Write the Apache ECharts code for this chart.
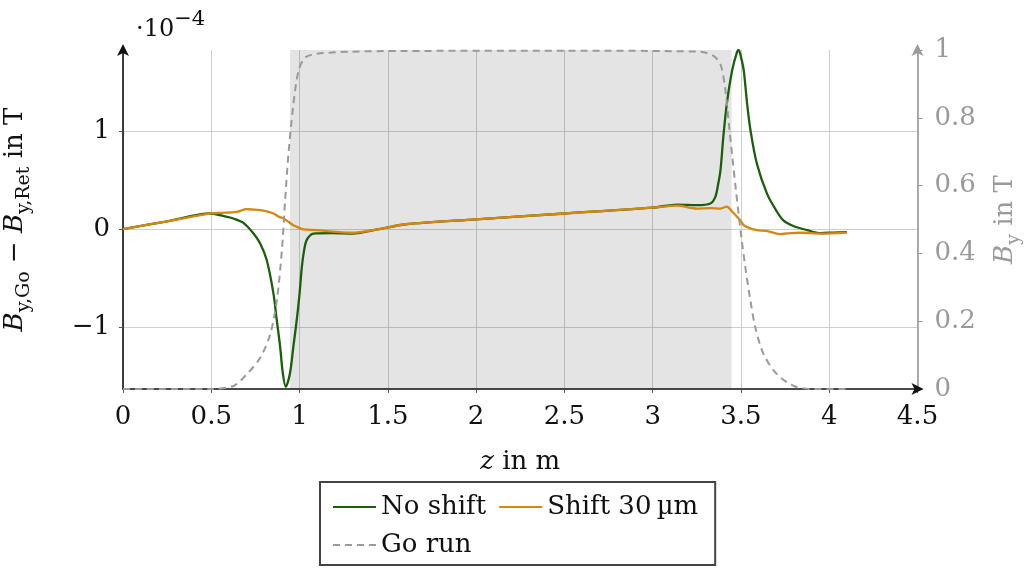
<!DOCTYPE html>
<html><head><meta charset="utf-8">
<script src="https://cdn.jsdelivr.net/npm/echarts@6/dist/echarts.min.js"></script>
<style>html,body{margin:0;padding:0;background:#fff}#c{width:1030px;height:568px}</style>
</head><body><div id="c"></div>
<script>
// ---- data (left axis values in units of 1e-4 T) ----
const zNoShift = [0, 0.25, 0.493, 0.588, 0.625, 0.682, 0.739, 0.777, 0.814, 0.852, 0.871, 0.89, 0.905, 0.922, 0.946, 0.965, 0.984, 1.0, 1.013, 1.026, 1.041, 1.078, 1.19, 1.3, 1.45, 1.6, 2.0, 2.5, 3.0, 3.138, 3.25, 3.327, 3.355, 3.37, 3.384, 3.40, 3.42, 3.45, 3.478, 3.487, 3.5, 3.516, 3.535, 3.554, 3.59, 3.648, 3.70, 3.74, 3.80, 3.875, 3.95, 4.02, 4.10];
const vNoShift = [0, 0.08, 0.16, 0.126, 0.109, 0.064, -0.044, -0.146, -0.316, -0.656, -0.93, -1.2, -1.47, -1.61, -1.47, -1.2, -0.93, -0.66, -0.385, -0.214, -0.11, -0.045, -0.04, -0.045, 0.0, 0.05, 0.10, 0.16, 0.22, 0.25, 0.245, 0.262, 0.33, 0.45, 0.60, 0.94, 1.28, 1.62, 1.81, 1.83, 1.76, 1.62, 1.28, 1.01, 0.67, 0.36, 0.19, 0.09, 0.03, -0.01, -0.04, -0.035, -0.03];

const zShift = [0, 0.25, 0.5, 0.55, 0.644, 0.70, 0.74, 0.777, 0.82, 0.852, 0.88, 0.909, 0.94, 0.965, 0.995, 1.022, 1.098, 1.19, 1.3, 1.45, 1.6, 2.0, 2.5, 3.0, 3.138, 3.25, 3.33, 3.384, 3.42, 3.45, 3.478, 3.50, 3.516, 3.55, 3.59, 3.65, 3.72, 3.78, 3.837, 3.95, 4.10];
const vShift = [0, 0.08, 0.16, 0.166, 0.177, 0.204, 0.20, 0.194, 0.18, 0.16, 0.13, 0.109, 0.07, 0.04, 0.015, -0.003, -0.01, -0.025, -0.037, 0.0, 0.05, 0.10, 0.16, 0.22, 0.24, 0.21, 0.215, 0.21, 0.23, 0.18, 0.126, 0.08, 0.04, 0.01, -0.01, -0.02, -0.05, -0.04, -0.037, -0.045, -0.035];

// right axis, B_y in T
const zGo = [0, 0.49, 0.625, 0.70, 0.777, 0.833, 0.871, 0.90, 0.918, 0.937, 0.965, 0.994, 1.03, 1.098, 1.29, 1.57, 2.5, 3.27, 3.346, 3.384, 3.41, 3.43, 3.45, 3.47, 3.497, 3.525, 3.554, 3.582, 3.629, 3.705, 3.80, 3.91, 4.10];
const bGo = [0, 0, 0.009, 0.043, 0.092, 0.16, 0.26, 0.41, 0.555, 0.692, 0.84, 0.938, 0.977, 0.989, 0.995, 0.997, 0.998, 0.995, 0.982, 0.958, 0.889, 0.79, 0.69, 0.594, 0.47, 0.358, 0.26, 0.18, 0.102, 0.043, 0.009, 0, 0];

const shadeRange = [0.946, 3.447];
const xTicks = [0, 0.5, 1, 1.5, 2, 2.5, 3, 3.5, 4, 4.5];
const leftTicks = [-1, 0, 1];
const rightTicks = [0, 0.2, 0.4, 0.6, 0.8, 1];
const seriesNames = ['No shift', 'Shift 30\u2009µm', 'Go run'];

const FONT = 'DejaVu Serif';
const FS = 26;
const pairs = (xs, ys) => xs.map((x, i) => [x, ys[i]]);
const rich = (color, fs, sfs, subPad) => ({
  i: {fontFamily: FONT, fontSize: fs, fontStyle: 'italic', fontWeight: 'normal', color},
  r: {fontFamily: FONT, fontSize: fs, fontWeight: 'normal', color},
  s: {fontFamily: FONT, fontSize: sfs, fontWeight: 'normal', color, padding: [subPad, 0, 0, 0]},
  t: {fontFamily: FONT, fontSize: sfs, fontWeight: 'normal', color, padding: [0, 0, subPad, 0]}
});

const chart = echarts.init(document.getElementById('c'));
chart.setOption({
  animation: false,
  backgroundColor: '#fff',
  title: {
    text: '{r|·10}{t|−4}', left: 131, top: 4,
    textStyle: {rich: rich('#111', 24, 21, 20), fontFamily: FONT, fontSize: 24, fontWeight: 'normal'}
  },
  grid: {left: 123, right: 112.5, top: 50, bottom: 179, containLabel: false, outerBoundsMode: 'none'},
  legend: {
    data: seriesNames,
    left: 320, top: 482, width: 400,
    itemWidth: 43, itemHeight: 2, itemGap: 12,
    padding: [12, 17, 7, 12],
    borderColor: '#444', borderWidth: 2,
    itemStyle: {opacity: 0},
    textStyle: {fontFamily: FONT, fontSize: FS, color: '#111', lineHeight: 26}
  },
  xAxis: {
    type: 'value', min: 0, max: 4.5, interval: 0.5,
    name: '{i|z}{r| in m}', nameLocation: 'middle', nameGap: 60,
    nameTextStyle: {rich: rich('#111', FS, 18, 16)},
    axisLine: {onZero: false, lineStyle: {color: '#111', width: 1.6}, symbol: ['none', 'arrow'], symbolSize: [9, 12], symbolOffset: [0, 6]},
    axisTick: {show: true, length: 4, lineStyle: {color: '#555'}},
    axisLabel: {fontFamily: FONT, fontSize: FS, color: '#111', margin: 15,
      formatter: v => String(v)},
    splitLine: {show: true, lineStyle: {color: '#cfcfcf', width: 1}}
  },
  yAxis: [{
    type: 'value', min: -1.633, max: 1.83, position: 'left',
    name: '{i|B}{s|y,Go}{r| − }{i|B}{s|y,Ret}{r| in T}', nameLocation: 'middle', nameGap: 89, nameRotate: 90,
    nameTextStyle: {rich: rich('#111', FS, 19, 18)},
    axisLine: {show: true, onZero: false, lineStyle: {color: '#111', width: 1.6}, symbol: ['none', 'arrow'], symbolSize: [9, 12], symbolOffset: [0, 6]},
    axisTick: {show: true, length: 4, customValues: leftTicks, lineStyle: {color: '#555'}},
    axisLabel: {fontFamily: FONT, fontSize: FS, color: '#111', margin: 13, customValues: leftTicks,
      formatter: v => v < 0 ? '−' + Math.abs(v) : String(v)},
    splitLine: {show: true, lineStyle: {color: '#cfcfcf', width: 1}}
  }, {
    type: 'value', min: 0, max: 1, interval: 0.2, position: 'right',
    name: '{i|B}{s|y}{r| in T}', nameLocation: 'middle', nameGap: 69, nameRotate: 90,
    nameTextStyle: {rich: rich('#9a9a9a', FS, 19, 18)},
    axisLine: {show: true, onZero: false, lineStyle: {color: '#9a9a9a', width: 1.6}, symbol: ['none', 'arrow'], symbolSize: [9, 12], symbolOffset: [0, 6]},
    axisTick: {show: true, length: 5, lineStyle: {color: '#9a9a9a'}},
    axisLabel: {fontFamily: FONT, fontSize: FS, color: '#9a9a9a', margin: 17,
      formatter: v => String(v)},
    splitLine: {show: false}
  }],
  series: [{
    name: seriesNames[0], type: 'line', yAxisIndex: 0, data: pairs(zNoShift, vNoShift),
    symbol: 'none', smooth: 0.3, color: '#1b5e0c', lineStyle: {width: 2.3},
    markArea: {silent: true, itemStyle: {color: 'rgba(0,0,0,0.105)'},
      data: [[{xAxis: shadeRange[0]}, {xAxis: shadeRange[1]}]]}
  }, {
    name: seriesNames[1], type: 'line', yAxisIndex: 0, data: pairs(zShift, vShift),
    symbol: 'none', smooth: 0.3, color: '#d4880f', lineStyle: {width: 2.3}
  }, {
    name: seriesNames[2], type: 'line', yAxisIndex: 1, data: pairs(zGo, bGo),
    symbol: 'none', smooth: 0.3, color: '#9a9a9a', lineStyle: {width: 2, type: [7, 5]}
  }]
});
</script></body></html>
